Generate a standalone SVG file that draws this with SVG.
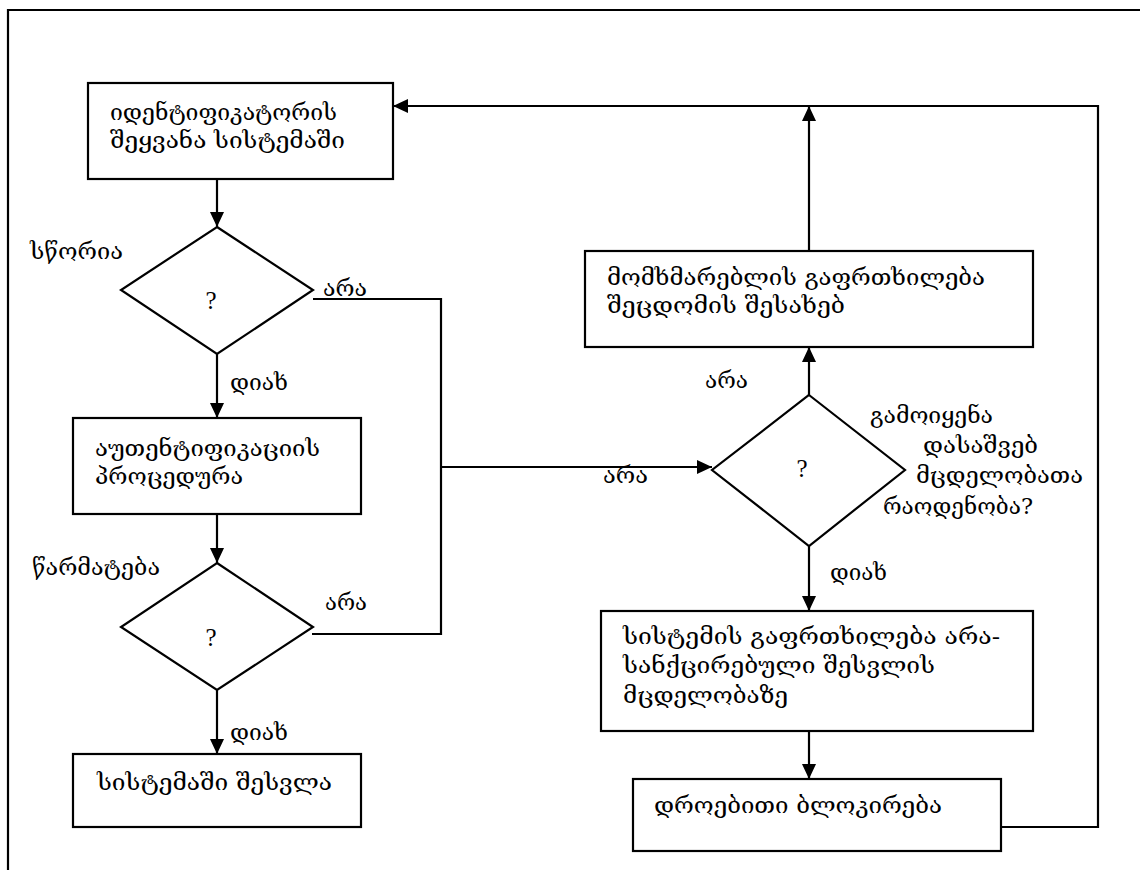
<svg xmlns="http://www.w3.org/2000/svg" width="1140" height="870" viewBox="0 0 1140 870">
  <defs>
    <marker id="arrow" markerUnits="userSpaceOnUse" markerWidth="16" markerHeight="16" viewBox="0 0 16 14" refX="15" refY="7" orient="auto">
      <path d="M0,0 L15,7 L0,14 z" fill="#000"/>
    </marker>
    <style>
      .shape { fill: #fff; stroke: #000; stroke-width: 2.2; }
      .wire { fill: none; stroke: #000; stroke-width: 2.2; }
      .ka { font-family: "DejaVu Serif", "DejaVu Sans", serif; font-size: 23px; fill: #000; }
      .q { font-family: "Liberation Serif", "Times New Roman", serif; font-size: 25px; fill: #000; }
    </style>
  </defs>

  <rect width="1140" height="870" fill="#fff"/>
  <!-- page frame -->
  <path class="wire" d="M8,870 V10 H1140"/>

  <!-- connectors -->
  <g id="connectors">
    <path class="wire" d="M217,179 V227" marker-end="url(#arrow)"/>
    <path class="wire" d="M217,354 V418" marker-end="url(#arrow)"/>
    <path class="wire" d="M217,514 V563" marker-end="url(#arrow)"/>
    <path class="wire" d="M217,690 V754" marker-end="url(#arrow)"/>
    <path class="wire" d="M313,299 H441 V634 H312"/>
    <path class="wire" d="M441,467 H712" marker-end="url(#arrow)"/>
    <path class="wire" d="M809,395 V347" marker-end="url(#arrow)"/>
    <path class="wire" d="M809,251 V106" marker-end="url(#arrow)"/>
    <path class="wire" d="M1001,827 H1098 V106 H393" marker-end="url(#arrow)"/>
    <path class="wire" d="M809,546 V611" marker-end="url(#arrow)"/>
    <path class="wire" d="M809,731 V779" marker-end="url(#arrow)"/>
    <text class="ka" x="323" y="296" textLength="44" lengthAdjust="spacingAndGlyphs">არა</text>
    <text class="ka" x="230" y="390" textLength="58" lengthAdjust="spacingAndGlyphs">დიახ</text>
    <text class="ka" x="325" y="610" textLength="42" lengthAdjust="spacingAndGlyphs">არა</text>
    <text class="ka" x="230" y="740" textLength="58" lengthAdjust="spacingAndGlyphs">დიახ</text>
    <text class="ka" x="603" y="483" textLength="45" lengthAdjust="spacingAndGlyphs">არა</text>
    <text class="ka" x="705" y="388" textLength="43" lengthAdjust="spacingAndGlyphs">არა</text>
    <text class="ka" x="830" y="580" textLength="57" lengthAdjust="spacingAndGlyphs">დიახ</text>
  </g>

  <!-- identifier input -->
  <g id="node-input">
    <rect class="shape" x="88" y="83" width="305" height="96"/>
    <text class="ka" x="110" y="120" textLength="227" lengthAdjust="spacingAndGlyphs">იდენტიფიკატორის</text>
    <text class="ka" x="110" y="148" textLength="235" lengthAdjust="spacingAndGlyphs">შეყვანა სისტემაში</text>
  </g>

  <!-- identifier check -->
  <g id="node-check-id">
    <polygon class="shape" points="217,227 313,290 217,354 121,290"/>
    <text class="q" x="211" y="309" text-anchor="middle">?</text>
    <text class="ka" x="30" y="259" textLength="93" lengthAdjust="spacingAndGlyphs">სწორია</text>
  </g>

  <!-- authentication -->
  <g id="node-auth">
    <rect class="shape" x="73" y="418" width="288" height="96"/>
    <text class="ka" x="95" y="456" textLength="225" lengthAdjust="spacingAndGlyphs">აუთენტიფიკაციის</text>
    <text class="ka" x="95" y="484" textLength="148" lengthAdjust="spacingAndGlyphs">პროცედურა</text>
  </g>

  <!-- success check -->
  <g id="node-check-auth">
    <polygon class="shape" points="217,563 313,627 217,690 121,627"/>
    <text class="q" x="211" y="646" text-anchor="middle">?</text>
    <text class="ka" x="32" y="575" textLength="128" lengthAdjust="spacingAndGlyphs">წარმატება</text>
  </g>

  <!-- login -->
  <g id="node-login">
    <rect class="shape" x="73" y="754" width="288" height="73"/>
    <text class="ka" x="97" y="790" textLength="235" lengthAdjust="spacingAndGlyphs">სისტემაში შესვლა</text>
  </g>

  <!-- user warning -->
  <g id="node-warn-user">
    <rect class="shape" x="585" y="251" width="448" height="96"/>
    <text class="ka" x="607" y="285" textLength="378" lengthAdjust="spacingAndGlyphs">მომხმარებლის გაფრთხილება</text>
    <text class="ka" x="607" y="313" textLength="238" lengthAdjust="spacingAndGlyphs">შეცდომის შესახებ</text>
  </g>

  <!-- attempts check -->
  <g id="node-check-attempts">
    <polygon class="shape" points="809,395 905,470 809,546 712,470"/>
    <text class="q" x="802" y="477" text-anchor="middle">?</text>
    <text class="ka" x="870" y="423" textLength="123" lengthAdjust="spacingAndGlyphs">გამოიყენა</text>
    <text class="ka" x="923" y="453" textLength="115" lengthAdjust="spacingAndGlyphs">დასაშვებ</text>
    <text class="ka" x="916" y="483" textLength="167" lengthAdjust="spacingAndGlyphs">მცდელობათა</text>
    <text class="ka" x="883" y="514" textLength="150" lengthAdjust="spacingAndGlyphs">რაოდენობა?</text>
  </g>

  <!-- system warning -->
  <g id="node-warn-system">
    <rect class="shape" x="601" y="611" width="432" height="120"/>
    <text class="ka" x="623" y="644" textLength="377" lengthAdjust="spacingAndGlyphs">სისტემის გაფრთხილება არა-</text>
    <text class="ka" x="623" y="673" textLength="312" lengthAdjust="spacingAndGlyphs">სანქცირებული შესვლის</text>
    <text class="ka" x="623" y="703" textLength="165" lengthAdjust="spacingAndGlyphs">მცდელობაზე</text>
  </g>

  <!-- temporary lock -->
  <g id="node-lock">
    <rect class="shape" x="633" y="779" width="368" height="72"/>
    <text class="ka" x="654" y="813" textLength="288" lengthAdjust="spacingAndGlyphs">დროებითი ბლოკირება</text>
  </g>
</svg>
